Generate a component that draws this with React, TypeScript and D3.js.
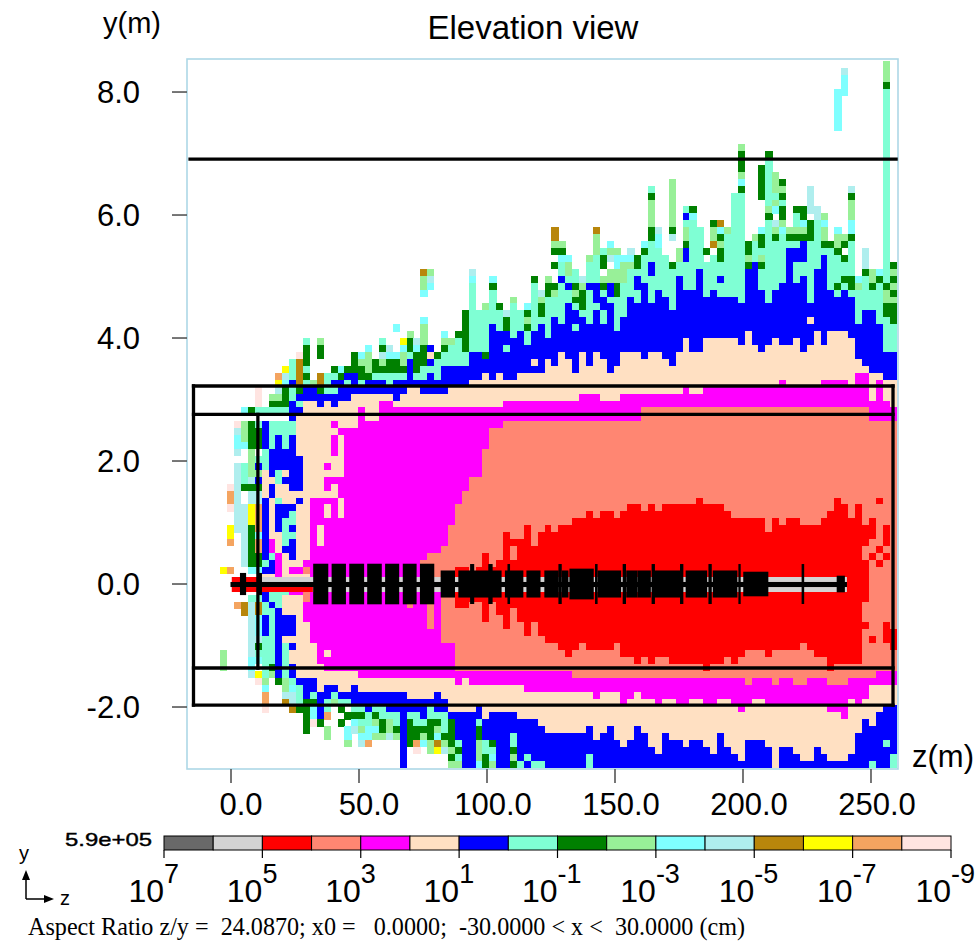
import React from 'react';
import * as d3 from 'd3';

// flux decades, same order as the legend bar
const levelColors = ['#696969', '#d3d3d3', '#ff0000', '#ff8672', '#ff00ff', '#ffe0c2', '#0000ff', '#7fffd4', '#008000', '#98f098', '#7fffff', '#afeeee', '#b8860b', '#ffff00', '#f4a460', '#ffe4e1'];
const legendExponents = ['7', '5', '3', '1', '-1', '-3', '-5', '-7', '-9'];
const zTicks = [0, 50, 100, 150, 200, 250];
const yTicks = [8, 6, 4, 2, 0, -2];

// mesh row (counted from the top) where each band starts, one entry per mesh column
const N = 102;
const aquaTop = [N, N, N, N, N, N, N, N, N, N, N, N, N, N, N, 43, 47, 46, 46, 47, 45, 45, 46, 46, 45, 46, 46, 45, 45, 45, 45, 45, 42, 45, 44, 44, 43, 42, 41, 40, 42, 32, 36, 36, 33, 36, 39, 35, 36, 39, 32, 37, 34, 34, 32, 33, 35, 36, 29, 28, 33, 34, 34, 32, 30, 33, 28, 26, 27, 28, 30, 29, 29, 23, 24, 29, 28, 29, 25, 19, 19, 30, 26, 30, 23, 26, 25, 26, 22, 29, 26, 23, 27, 27, 28, 29, 33, 33, 31, 33, 32, 4, 38];
const blueTop = [N, N, N, N, N, N, N, N, N, N, N, N, N, N, N, 50, 48, 47, 47, 48, 48, 46, 46, 45, 45, 47, 46, 46, 46, 47, 46, 46, 43, 46, 46, 45, 46, 44, 44, 44, 44, 42, 42, 43, 38, 39, 39, 40, 39, 41, 39, 38, 40, 37, 38, 35, 36, 37, 38, 36, 34, 32, 39, 37, 34, 31, 32, 29, 33, 34, 36, 31, 33, 33, 30, 34, 33, 34, 34, 34, 35, 30, 29, 33, 35, 33, 32, 27, 27, 27, 35, 30, 28, 33, 34, 33, 34, 38, 36, 36, 38, 42, 42];
const beigeTop = [N, N, N, N, N, N, N, N, N, N, N, 52, 52, 52, 52, 52, 51, 49, 49, 50, 49, 50, 49, 49, 48, 48, 48, 48, 48, 48, 49, 48, 47, 47, 48, 48, 48, 48, 47, 47, 47, 46, 46, 45, 46, 45, 46, 46, 45, 45, 45, 45, 43, 44, 42, 43, 45, 42, 44, 42, 43, 45, 44, 42, 42, 42, 43, 42, 42, 43, 44, 42, 40, 42, 42, 40, 40, 40, 40, 40, 41, 39, 41, 42, 41, 40, 41, 41, 40, 42, 41, 39, 41, 39, 39, 39, 40, 43, 44, 45, 45, 46, 46];
const magentaTop = [N, N, N, N, N, N, N, N, N, N, N, N, N, N, N, N, N, N, 63, 63, 66, 63, 60, 54, 53, 50, 52, 52, 49, 49, 50, 50, 50, 50, 50, 50, 50, 50, 50, 50, 50, 50, 50, 50, 50, 50, 49, 49, 49, 49, 49, 49, 49, 49, 49, 49, 49, 48, 48, 48, 49, 49, 49, 48, 48, 48, 48, 48, 48, 48, 48, 48, 47, 48, 48, 47, 47, 47, 47, 47, 47, 47, 47, 47, 47, 47, 46, 47, 47, 47, 47, 47, 46, 46, 46, 46, 47, 45, 45, 49, 46, 49, 50];
const salmonTop = [N, N, N, N, N, N, N, N, N, N, N, N, N, N, N, N, N, N, N, N, N, N, N, N, N, N, N, N, N, N, N, N, N, N, N, N, 71, 70, 67, 64, 62, 60, 60, 56, 53, 53, 52, 52, 52, 52, 52, 52, 52, 52, 52, 52, 52, 52, 52, 52, 52, 52, 52, 52, 52, 52, 50, 50, 50, 50, 50, 50, 50, 50, 50, 50, 50, 50, 50, 50, 50, 50, 50, 50, 50, 50, 50, 50, 50, 50, 50, 50, 50, 50, 50, 50, 50, 50, 50, 52, 52, 52, 52];
const redTop = [N, N, N, N, N, N, N, N, N, N, N, N, N, N, N, N, N, N, N, N, N, N, N, N, N, N, N, N, N, N, N, N, N, N, N, N, N, N, N, 73, 73, 74, 73, 71, 73, 72, 68, 69, 69, 67, 70, 68, 67, 68, 67, 67, 66, 66, 65, 66, 65, 65, 66, 65, 64, 64, 65, 64, 65, 64, 64, 64, 64, 64, 63, 64, 64, 64, 65, 66, 66, 66, 66, 66, 68, 66, 67, 66, 66, 67, 67, 67, 66, 65, 63, 64, 66, 64, 67, N, N, N, N];

// same idea below the beam line: row where each band stops
const redEnd = [0, 0, 0, 0, 0, 0, 0, 0, 0, 0, 0, 0, 0, 0, 0, 0, 0, 0, 0, 0, 0, 0, 0, 0, 0, 0, 0, 0, 0, 0, 0, 0, 0, 0, 0, 0, 0, 0, 0, 79, 79, 78, 78, 81, 78, 80, 82, 79, 81, 83, 81, 83, 84, 84, 85, 86, 85, 84, 85, 85, 85, 85, 84, 86, 86, 87, 86, 87, 86, 86, 87, 87, 87, 87, 87, 88, 87, 87, 86, 87, 86, 85, 85, 85, 86, 85, 85, 85, 85, 84, 85, 86, 86, 88, 87, 87, 87, 87, 82, 0, 0, 0, 0];
const salmonEnd = [0, 0, 0, 0, 0, 0, 0, 0, 0, 0, 0, 0, 0, 0, 0, 0, 0, 0, 0, 0, 0, 0, 0, 0, 0, 0, 0, 0, 0, 0, 0, 0, 79, 0, 0, 82, 0, 84, 84, 88, 88, 88, 88, 88, 88, 88, 88, 88, 88, 88, 88, 88, 88, 88, 88, 88, 89, 89, 89, 89, 89, 89, 89, 89, 89, 89, 89, 89, 89, 89, 89, 89, 89, 89, 89, 89, 89, 89, 89, 89, 89, 90, 89, 89, 89, 90, 89, 89, 90, 90, 89, 89, 89, 90, 90, 90, 89, 89, 89, 89, 88, 88, 88];
const magentaEnd = [0, 0, 0, 0, 0, 0, 0, 0, 0, 0, 0, 0, 0, 0, 0, 0, 0, 81, 84, 88, 88, 88, 88, 88, 88, 89, 89, 89, 89, 89, 89, 89, 89, 89, 89, 89, 89, 89, 89, 90, 89, 90, 90, 90, 90, 90, 90, 90, 90, 91, 91, 91, 91, 91, 91, 91, 91, 91, 91, 92, 91, 91, 91, 93, 92, 91, 92, 92, 93, 92, 92, 93, 93, 92, 92, 93, 93, 92, 92, 93, 94, 93, 92, 92, 93, 93, 93, 93, 93, 93, 93, 93, 93, 94, 94, 95, 92, 93, 92, 90, 90, 90, 90];
const beigeEnd = [0, 0, 0, 0, 0, 0, 0, 0, 0, 0, 0, 88, 88, 88, 88, 88, 89, 89, 89, 91, 90, 90, 91, 91, 90, 91, 91, 91, 91, 91, 91, 91, 92, 92, 92, 92, 91, 92, 94, 94, 94, 94, 93, 95, 94, 94, 94, 94, 95, 95, 95, 96, 97, 97, 97, 97, 97, 97, 96, 98, 97, 96, 98, 99, 98, 96, 97, 99, 100, 97, 98, 98, 99, 98, 98, 99, 100, 97, 99, 100, 101, 98, 98, 98, 99, 102, 99, 99, 100, 101, 101, 99, 100, 101, 101, 101, 100, 97, 95, 96, 94, 93, 93];
const blueEnd = [0, 0, 0, 0, 0, 0, 0, 0, 0, 0, 0, 0, 0, 0, 0, 0, 90, 92, 91, 95, 92, 91, 92, 92, 93, 93, 93, 93, 93, 93, 93, 93, 93, 93, 93, 93, 93, 93, 95, 98, 102, 102, 95, 98, 98, 102, 102, 97, 102, 102, 102, 102, 102, 102, 102, 102, 102, 102, 102, 102, 102, 102, 102, 102, 102, 102, 102, 102, 102, 102, 102, 102, 102, 102, 102, 102, 102, 102, 102, 102, 102, 102, 102, 102, 102, 102, 102, 102, 102, 102, 102, 102, 102, 102, 102, 102, 102, 102, 102, 102, 102, 102, 102];

// scattered low-flux cells per column: "rowFrom-rowTo + colour letter"
const scatterLetters: Record<string, number> = { R: 2, S: 3, M: 4, B: 5, U: 6, A: 7, G: 8, P: 9, C: 10, T: 11, O: 12, Y: 13, D: 14, I: 15 };
const scatter: Record<number, string> = {
  5: '73Y 85-87P',
  6: '61I 62-63D 64I 67-68Y 69D 73D',
  7: '52I 53T 54-55C 56T 58-67T 78D',
  8: '50C 52-54P 55C 58-60A 61G 64-72T 78-79O',
  9: '50G 52-55G 56-59P 60T 61G 62-63T 64-66Y 67-72G 73C 77A 78-85T 86-87C 88T',
  10: '47-49I 50A 52A 53-55G 57A 58U 59P 60U 61G 62-63T 64-67D 68C 69-70D 71-72G 73C 77A 78-79O 80-82C 83T 84G 85A 86C 88Y 89I',
  11: '50A 52-55U 56-58A 63-71U 72A 73U 75-77U 78-79A 80-82U 83-87A 88A 89P 90C 91-92D 93I',
  12: '48P 49G 50A 52-55A 56-59U 61-62U 69-70M 71A 72-73U 75-77A 78U 79-86A 87G 88P',
  13: '45D 46Y 47T 48P 49G 50A 52-53A 54-58U 59-60A 63A 64-67U 71-74M 75-78A 79-87U 88U 89G',
  14: '44Y 45T 46C 47-49G 50A 52-55A 56-58U 60U 64-65U 66-69A 70U 75-76A 80-82U 84-87A 88A 89P 90P 91T 92O',
  15: '46U 49U 52-53A 54-61U 64U 65-66A 67U 68A 69-71U 73M 76M 80-82U 84U 87U 88U 89A 90C 91-92T 93O',
  16: '42I 43-46O 47G 49A 57-61U 63U 73M 76M 90-92A 93G',
  17: '40A 41-43G 44A 45G 72M 73S 76-77S 92-96G',
  18: '46P 91A 92G 93-94C 95I',
  19: '40P 41-42G 45-46O 47G 67-69B 87B 95G',
  20: '47A 58M 60-61M 63M 85B 92-93A 94D 96-97P',
  21: '44G 47A 52M 54-56M 60M 91A 92P',
  22: '44C 45G 53M 63-65B 92A 93G 95G',
  23: '44G 46A 53M 92A 94G 96-97C 98P',
  24: '42-44G 93A 94G 95C 96T',
  25: '42C 43P 44-45G 93A 94G 95A 96P 97C 98T',
  26: '41C 42-44P 45G 93U 94-95A 96-97C 98D',
  27: '43-44G 93A 94G 95P 96C 97P',
  28: '40A 41G 42T 43P 44G 93-94A 95-96G 97P',
  29: '41T 42C 43-44G 93U 94A 95-96P 97T',
  30: '38C 42C 43-44G 93U 94-95A 96G 97P',
  31: '40Y 41C 42-43P 44G 93-101U',
  32: '39P 40-41G 42A 93U 94A 95-98G',
  33: '40T 41C 42-44G 93U 94-95A 96-97G 98D 99I',
  34: '30O 31-32P 33C 37C 38-40P 41-43G 72-74S 93-94U 95A 96G 97P 98C',
  35: '30P 31T 32C 41U 42B 43U 71-74S 93-94A 95-97G 98-99P',
  36: '42G 93U 94A 95G 96P 97C 98O 99Y',
  37: '39C 40P 41G 93U 94-96A 97G 98P 99T',
  38: '40P 95-98G 99P 100G 101P',
  39: '39G 98A 99G 100A 101P',
  40: '36-41G',
  41: '30T 31C',
  42: '95A 96-97G 98-100P 101C',
  43: '35P 42G 98-99A 100-101G',
  44: '31C 32G 98G 99A 100C 101P',
  45: '35G',
  46: '36T 37-38G 41A',
  47: '34P 70-71S 97-98A 99G 100P 101G',
  48: '101A',
  49: '35C 36G 37P 38G 100A',
  50: '31G 43B 101A',
  51: '33T 34P 35-36G 101A',
  52: '31P 32-33G',
  53: '24-25O 26P 27G 29G 32G 33P',
  54: '26P 27G 28C 29-30A 31U',
  55: '28C 29-30P 31A 32U',
  56: '30-31A 32G 33P 34G 38A',
  57: '31T 32P 33-35G',
  58: '28P 32U 100-101A',
  59: '24O 25-27P 32-34U',
  60: '27A 28-29G 31P 32G 36-37A',
  61: '26C 27P 28T 30-31P 34A',
  62: '27P 28-29C 30-31P 32-33G',
  63: '28C 29-31P',
  64: '27T 28C 29P',
  65: '28-29G 30A 33-34A',
  66: '26C 27G',
  67: '18A 19G 20-23P 24-25G 31-34A',
  68: '24T 25-26C',
  70: '17-23P 24G 25T 29G',
  71: '27-28P',
  72: '21A 22U 23A 24-25P 26G 27-28U',
  73: '21G 22C',
  75: '27G',
  76: '23G 24-25P 26O',
  77: '23O 24C 25G 26P 27-28G 31U',
  78: '24P',
  80: '12P 13-15G 16P 17C 18G',
  81: '26-27G 28P 29G',
  82: '25P',
  83: '15-19G 24C 25-26G 27A 28P 29G',
  84: '13G 14-20A 21P 22G',
  85: '16-18P 19A 20P 21C 23T 24P 25G',
  86: '17G 18P 19G 20A 21-22G 23P 24C',
  87: '24P 25G',
  88: '21G 24P 25G 29-31A',
  89: '21-22G 23C 24P 25G 26U 29-30A',
  90: '18-21T 23-25G 37B',
  91: '21-22T',
  92: '22P 23C 24-25P 26G',
  93: '26G',
  94: '4-9C 24C 25-26P 27G 32G',
  95: '1T 2-4C 25P 26G 28G 31G',
  96: '18T 19G 20-22P 23-24C 25G 26-30A 31-32G',
  97: '31C 32P',
  98: '27-29T 30G 70-71S 78-80S',
  99: '30-31P 32G 66-68R 71R 83R 101A',
  100: '30C 31G 63R 70R 72R',
  101: '0-2P 3G 32G 33-34P 35-36G 67-69R 71R 81-83R 98A',
  102: '29G 30P 31G 32P 33G 34P 35-37G 82-84R 100-101A',
};

// beam line elements, in metres: [zFrom, zTo, half height]
const magnets = [
  [3.5, 5.9, 0.18], [10.2, 12.1, 0.18],
  [32.1, 38, 0.33], [39.3, 44.9, 0.33], [46.2, 52, 0.33], [53.2, 58.9, 0.33], [60.2, 65.7, 0.33], [67.1, 72.5, 0.33], [73.8, 79.4, 0.33],
  [81.9, 87.5, 0.22], [88.8, 105.7, 0.22], [107, 114.2, 0.22], [115.4, 120.9, 0.22], [122.4, 128, 0.22], [129.2, 131.8, 0.22], [132.2, 141.7, 0.25],
  [143.2, 152.4, 0.22], [154.4, 158.8, 0.22], [158.8, 164, 0.22], [165, 175.6, 0.22], [177.6, 186, 0.22], [188.2, 197.8, 0.22], [200.1, 209.9, 0.2],
  [236.6, 239.8, 0.135],
  [93.4, 95, 0.325], [100.5, 102.2, 0.325], [108, 109, 0.325], [127.9, 129.2, 0.325], [142.2, 143.2, 0.325], [153, 154.3, 0.325], [164.3, 165.6, 0.325],
  [175.4, 176.7, 0.325], [186.5, 187.8, 0.325], [198.2, 199.1, 0.325], [222.9, 223.9, 0.325],
];
// [zFrom, zTo, yTop, yBottom, colour]
const beamStrips: [number, number, number, number, string][] = [
  [0.3, 12, 0.114, 0.033, '#ff0000'],
  [12, 240.6, 0.114, 0.033, '#d3d3d3'],
  [0.3, 32, -0.049, -0.13, '#ff0000'],
  [32, 240.6, -0.049, -0.13, '#d3d3d3'],
  [-0.2, 240.6, 0.033, -0.049, '#000000'],
];

// concrete shield outline, metres: [z1, y1, z2, y2]
const shieldLines = [
  [-16, 6.91, 259.8, 6.91],
  [-14.65, 3.22, 258.6, 3.22],
  [-14.65, 2.76, 258.6, 2.76],
  [-14.65, -1.366, 258.6, -1.366],
  [-14.65, -1.97, 258.6, -1.97],
  [-14.65, 3.22, -14.65, -1.97],
  [258.6, 3.22, 258.6, -1.97],
  [10.5, 2.76, 10.5, -1.366],
];

const zScale = d3.scaleLinear().domain([-17.19, 260.55]).range([187, 898]);
const yScale = d3.scaleLinear().domain([8.537, -3.008]).range([59, 769]);
const meshZ0 = -17.66;
const meshDz = 2.695;
const meshY0 = 8.506;
const meshDy = 0.1127;
const beamRow = 75;

function parseScatter(col: number) {
  const found = new Map<number, number>();
  const text = scatter[col];
  if (!text) return found;
  text.split(' ').forEach((part) => {
    const m = part.match(/^(\d+)(?:-(\d+))?([A-Z])$/);
    if (!m) return;
    const from = +m[1];
    const to = m[2] ? +m[2] : from;
    for (let r = from; r <= to; r++) found.set(r, scatterLetters[m[3]]);
  });
  return found;
}

function baseLevel(c: number, r: number) {
  if (r < beamRow) {
    if (r >= redTop[c]) return 2;
    if (r >= salmonTop[c]) return 3;
    if (r >= magentaTop[c]) return 4;
    if (r >= beigeTop[c]) return 5;
    if (r >= blueTop[c]) return 6;
    if (r >= aquaTop[c]) return 7;
    return -1;
  }
  if (r < redEnd[c]) return 2;
  if (r < salmonEnd[c]) return 3;
  if (r < magentaEnd[c]) return 4;
  if (r < beigeEnd[c]) return 5;
  if (r < blueEnd[c]) return 6;
  return -1;
}

const cells: { c: number; r: number; level: number }[] = [];
d3.range(103).forEach((c) => {
  const extra = parseScatter(c);
  d3.range(102).forEach((r) => {
    const level = extra.has(r) ? extra.get(r)! : baseLevel(c, r);
    if (level >= 0) cells.push({ c, r, level });
  });
});

const legendX = d3.scaleLinear().domain([0, 16]).range([164, 951]);

export default function App() {
  const sans = 'Liberation Sans, Arial, sans-serif';
  return (
    <svg width={977} height={941} style={{ position: 'absolute', left: 0, top: 0, background: '#fff' }}>
      <defs>
        <clipPath id="plot"><rect x={187} y={59} width={711} height={710} /></clipPath>
      </defs>

      <g clipPath="url(#plot)" shapeRendering="crispEdges">
        {cells.map((d) => {
          const x0 = zScale(meshZ0 + d.c * meshDz);
          const x1 = zScale(meshZ0 + (d.c + 1) * meshDz);
          const y0 = yScale(meshY0 - d.r * meshDy);
          const y1 = yScale(meshY0 - (d.r + 1) * meshDy);
          return <rect key={d.c + '-' + d.r} x={x0} y={y0} width={x1 - x0 + 0.3} height={y1 - y0 + 0.3} fill={levelColors[d.level]} />;
        })}
      </g>

      <rect x={187} y={59} width={711} height={710} fill="none" stroke="#add8e6" strokeWidth={1.6} />

      <g>
        {beamStrips.map((s, i) => (
          <rect key={i} x={zScale(s[0])} y={yScale(s[2])} width={zScale(s[1]) - zScale(s[0])} height={yScale(s[3]) - yScale(s[2])} fill={s[4]} />
        ))}
        {magnets.map((m, i) => (
          <rect key={i} x={zScale(m[0])} y={yScale(m[2])} width={zScale(m[1]) - zScale(m[0])} height={yScale(-m[2]) - yScale(m[2])} fill="#000" />
        ))}
      </g>

      {shieldLines.map((l, i) => (
        <line key={i} x1={zScale(l[0])} y1={yScale(l[1])} x2={zScale(l[2])} y2={yScale(l[3])} stroke="#000" strokeWidth={3.3} strokeLinecap="square" />
      ))}

      {zTicks.map((t) => {
        const label = t.toFixed(1);
        return (
          <g key={t}>
            <line x1={zScale(t)} x2={zScale(t)} y1={769} y2={783} stroke="#555" strokeWidth={1.6} />
            <text x={zScale(t) + (label.length > 4 ? 6 : 10)} y={815} textAnchor="middle" fontFamily={sans} fontSize={31}>{label}</text>
          </g>
        );
      })}
      {yTicks.map((t) => (
        <g key={t}>
          <line x1={172} x2={187} y1={yScale(t)} y2={yScale(t)} stroke="#555" strokeWidth={1.6} />
          <text x={140} y={yScale(t) + 11} textAnchor="end" fontFamily={sans} fontSize={31}>{t.toFixed(1)}</text>
        </g>
      ))}

      <text x={103} y={33} fontFamily={sans} fontSize={29}>y(m)</text>
      <text x={533} y={39} textAnchor="middle" fontFamily={sans} fontSize={33}>Elevation view</text>
      <text x={912} y={767} fontFamily={sans} fontSize={31}>z(m)</text>

      {levelColors.map((col, i) => (
        <rect key={col} x={legendX(i)} y={836} width={legendX(i + 1) - legendX(i)} height={14} fill={col} stroke="#000" strokeWidth={1} />
      ))}
      {legendExponents.map((e, i) => {
        const x = legendX(i * 2);
        return (
          <g key={e}>
            <line x1={x} x2={x} y1={850} y2={858} stroke="#000" strokeWidth={1.2} />
            <text x={x} y={902} textAnchor="end" fontFamily={sans} fontSize={32}>10</text>
            <text x={x} y={883} fontFamily={sans} fontSize={27}>{e}</text>
          </g>
        );
      })}
      <text x={152} y={846} textAnchor="end" fontFamily={sans} fontSize={19} textLength={87} lengthAdjust="spacingAndGlyphs" stroke="#000" strokeWidth={0.4}>5.9e+05</text>

      <text x={19} y={860} fontFamily={sans} fontSize={20}>y</text>
      <path d="M26 899V874M26 899H50" fill="none" stroke="#000" strokeWidth={1.5} />
      <path d="M26 870l-4 10h8zM54 899l-10 -4v8z" fill="#000" />
      <text x={60} y={905} fontFamily={sans} fontSize={20}>z</text>

      <text x={28} y={935} fontFamily="Liberation Serif, Times New Roman, serif" fontSize={25} textLength={717} lengthAdjust="spacingAndGlyphs" xmlSpace="preserve">Aspect Ratio z/y =  24.0870; x0 =   0.0000;  -30.0000 &lt; x &lt;  30.0000 (cm)</text>
    </svg>
  );
}
